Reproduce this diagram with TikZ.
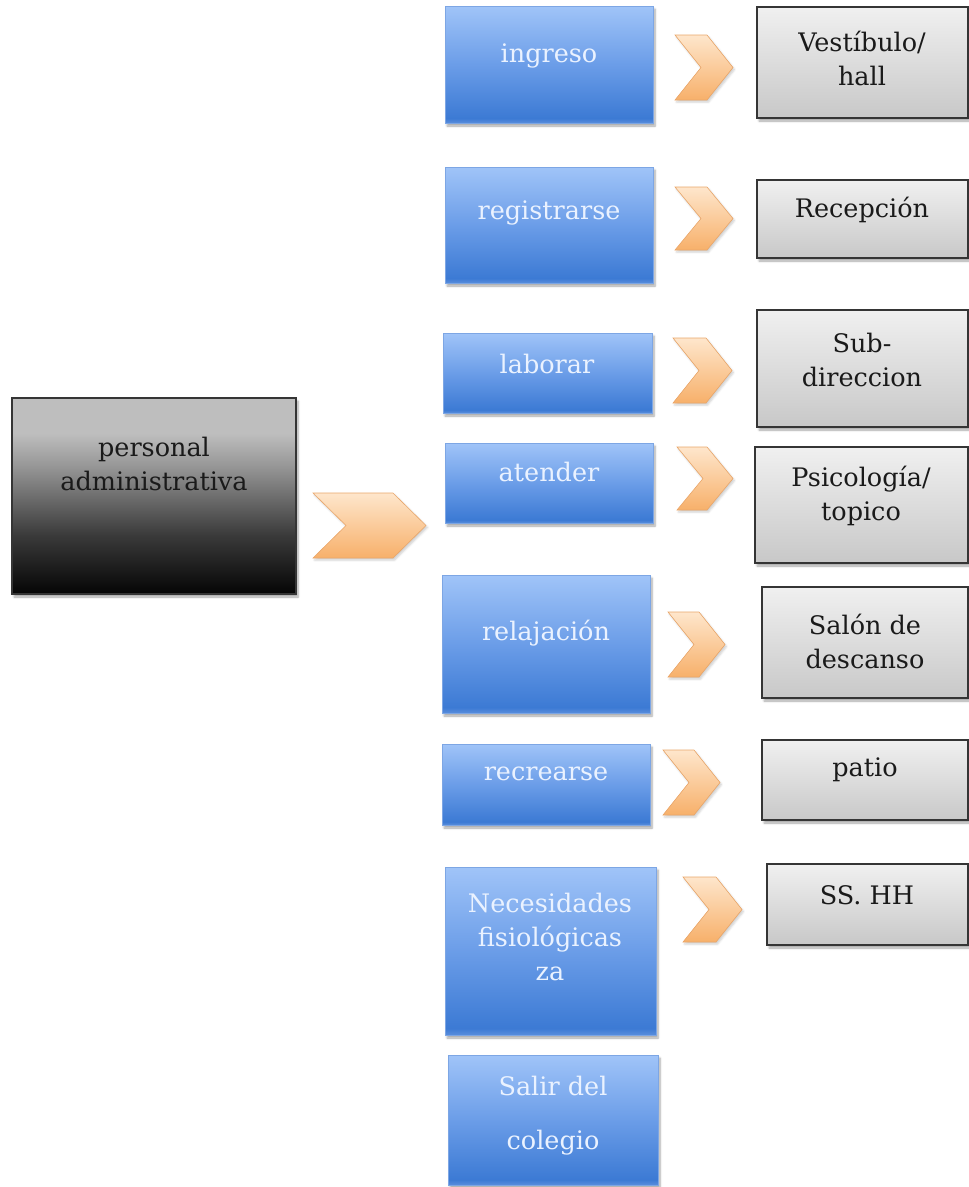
\documentclass[tikz,border=0pt]{standalone}
\usepackage{fontspec}
\setmainfont{DejaVu Serif}
\usetikzlibrary{shadows.blur}
\definecolor{bluetop}{HTML}{A0C4F8}
\definecolor{bluemid}{HTML}{6B9DE8}
\definecolor{bluebot}{HTML}{3C7AD4}
\definecolor{bluerim}{HTML}{5A8EDC}
\definecolor{blueedge}{HTML}{7DA6E4}
\definecolor{bluetext}{HTML}{EAF2FF}
\definecolor{graytop}{HTML}{F0F0F0}
\definecolor{graybot}{HTML}{C8C8C8}
\definecolor{grayedge}{HTML}{353535}
\definecolor{darktext}{HTML}{1A1A1A}
\definecolor{chevtop}{HTML}{FEE6CC}
\definecolor{chevbot}{HTML}{F7B06A}
\definecolor{chevedge}{HTML}{E9A66A}
\definecolor{lbtop}{HTML}{BEBEBE}
\definecolor{lbmid}{HTML}{989898}
\definecolor{lblow}{HTML}{3A3A3A}
\definecolor{lbbot}{HTML}{050505}
\pgfdeclareverticalshading{blueshade}{100bp}{color(0bp)=(bluerim); color(25bp)=(bluerim); color(27bp)=(bluebot); color(50bp)=(bluemid); color(75bp)=(bluetop); color(100bp)=(bluetop)}
\pgfdeclareverticalshading{leftshade}{100bp}{color(0bp)=(lbbot); color(25bp)=(lbbot); color(40bp)=(lblow); color(58bp)=(lbmid); color(66bp)=(lbtop); color(75bp)=(lbtop); color(100bp)=(lbtop)}
\tikzset{
  shad/.style={blur shadow={shadow xshift=2pt, shadow yshift=-3pt, shadow blur steps=6, shadow opacity=35}},
  bluebox/.style={shading=blueshade, draw=blueedge, line width=0.8pt, inner sep=0pt, shad},
  graybox/.style={top color=graytop, bottom color=graybot, draw=grayedge, line width=1.6pt, inner sep=0pt, shad},
  leftbox/.style={shading=leftshade, draw=grayedge, line width=1.4pt, inner sep=0pt, shad},
  chevst/.style={top color=chevtop, bottom color=chevbot, draw=chevedge, line width=0.6pt,
    blur shadow={shadow xshift=1.5pt, shadow yshift=-2pt, shadow blur steps=4, shadow opacity=20}},
  btext/.style={text=bluetext, font=\fontsize{25.5}{34}\selectfont, align=center, inner sep=0pt},
  gtext/.style={text=darktext, font=\fontsize{25.5}{34}\selectfont, align=center, inner sep=0pt},
}
\newcommand\mychev[5]{\path[chevst] (#1,#3) -- (#2-#5,#3) -- (#2,{(#3+#4)/2}) -- (#2-#5,#4) -- (#1,#4) -- (#1+#5,{(#3+#4)/2}) -- cycle;}
\newcommand\mybox[6]{\node[#1, minimum width={(#4)-(#3)}, minimum height={(#6)-(#5)}] (#2) at ({((#3)+(#4))/2},{((#5)+(#6))/2}) {};}
\begin{document}
\begin{tikzpicture}[x=1pt,y=-1pt]
\useasboundingbox (0,0) rectangle (969,1187);
% left box
\mybox{leftbox}{pa}{12}{296}{398}{594}
\node[gtext] (tpa) at (154,464) {personal\\administrativa};
\mychev{313}{426}{493}{558}{33}
% blue boxes
\mybox{bluebox}{b1}{445}{653}{6}{123}
\mybox{bluebox}{b2}{445}{653}{167}{283}
\mybox{bluebox}{b3}{443}{652}{333}{413}
\mybox{bluebox}{b4}{445}{653}{443}{523}
\mybox{bluebox}{b5}{442}{650}{575}{713}
\mybox{bluebox}{b6}{442}{650}{744}{825}
\mybox{bluebox}{b7}{445}{656}{867}{1035}
\mybox{bluebox}{b8}{448}{658}{1055}{1185}
\node[btext] (t1) at (549,56) {ingreso};
\node[btext] (t2) at (549,213) {registrarse};
\node[btext] (t3) at (547,364) {laborar};
\node[btext] (t4) at (549,472) {atender};
\node[btext] (t5) at (546,633) {relajación};
\node[btext] (t6) at (546,774) {recrearse};
\node[btext] (t7) at (550,937) {Necesidades\\fisiológicas\\za};
\node[btext] (t8) at (553,1116) {Salir del\\[20pt]colegio};
% chevrons
\mychev{675}{733}{35}{100}{26}
\mychev{675}{733}{187}{250}{26}
\mychev{673}{732}{338}{403}{26}
\mychev{677}{733}{447}{510}{26}
\mychev{668}{725}{612}{677}{26}
\mychev{663}{720}{750}{815}{26}
\mychev{683}{742}{877}{942}{26}
% gray boxes
\mybox{graybox}{g1}{757}{968}{7}{118}
\mybox{graybox}{g2}{757}{968}{180}{258}
\mybox{graybox}{g3}{757}{968}{310}{427}
\mybox{graybox}{g4}{755}{968}{447}{563}
\mybox{graybox}{g5}{762}{968}{587}{698}
\mybox{graybox}{g6}{762}{968}{740}{820}
\mybox{graybox}{g7}{767}{968}{864}{945}
\node[gtext] (s1) at (862,58) {Vestíbulo/\\hall};
\node[gtext] (s2) at (862,210) {Recepción};
\node[gtext] (s3) at (862,360) {Sub-\\direccion};
\node[gtext] (s4) at (861,496) {Psicología/\\topico};
\node[gtext] (s5) at (865,641) {Salón de\\descanso};
\node[gtext] (s6) at (865,770) {patio};
\node[gtext] (s7) at (867,895) {SS. HH};
\end{tikzpicture}
\end{document}
